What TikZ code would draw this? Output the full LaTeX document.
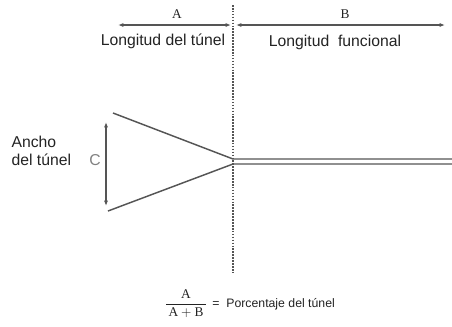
\documentclass[tikz,border=0pt]{standalone}
\usepackage{fontspec}
\usepackage{amsmath}
\usetikzlibrary{arrows.meta,positioning}
\newfontfamily\labfont{Liberation Sans}
\newfontfamily\letfont{Liberation Serif}
\definecolor{inkgray}{RGB}{35,35,35}
\definecolor{linegray}{RGB}{85,85,85}

\begin{document}
\begin{tikzpicture}[x=0.75pt,y=-0.75pt,
    every node/.style={font=\labfont\fontsize{11.8}{13}\selectfont,text=inkgray,inner sep=1pt},
    dimarrow/.style={{Latex[length=4pt,width=3pt]}-{Latex[length=4pt,width=3pt]},linegray,line width=0.8pt},
    wall/.style={linegray,line width=1.1pt},
    letter/.style={font=\letfont\fontsize{10}{12}\selectfont}]
  \useasboundingbox (0,0) rectangle (452,326);
  % dividing line
  \coordinate (dtop) at (233,5);
  \coordinate (dbot) at (233,272);
  \draw[linegray,densely dotted,line width=1.2pt] (dtop) -- (dbot);
  % lengths A and B
  \coordinate (a1) at (118,25);
  \coordinate (a2) at (231,25);
  \coordinate (b1) at (236,25);
  \coordinate (b2) at (445,25);
  \draw[dimarrow] (a1) -- (a2);
  \draw[dimarrow] (b1) -- (b2);
  \node[letter] (lA) at (177,14) {A};
  \node[letter] (lB) at (345,14) {B};
  \node (tunel) at (163,41) {Longitud del túnel};
  \node (func) at (335,42) {Longitud\ \ funcional};
  % funnel and channel
  \coordinate (ftop) at (113,113);
  \coordinate (fbot) at (108,211);
  \coordinate (chtop) at (233,159);
  \coordinate (chbot) at (233,164);
  \coordinate (etop) at (452,159);
  \coordinate (ebot) at (452,164);
  \draw[wall] (ftop) -- (chtop) -- (etop);
  \draw[wall] (fbot) -- (chbot) -- (ebot);
  % width C
  \coordinate (c1) at (106,122);
  \coordinate (c2) at (106,206);
  \draw[dimarrow] (c1) -- (c2);
  \node[text=gray] (lC) at (95,160) {C};
  \node[align=left,anchor=west] (ancho) at (10,151) {Ancho\\del túnel};
  % ratio
  \node[font=\letfont\fontsize{10}{12}\selectfont,inner sep=0.5pt] (frac) at (186,304)
    {$\dfrac{\text{A}}{\,\text{A}+\text{B}\,}$};
  \node[font=\labfont\fontsize{9.2}{11}\selectfont,right=2pt of frac] (pct)
    {= \ Porcentaje del túnel};
\end{tikzpicture}
\end{document}
